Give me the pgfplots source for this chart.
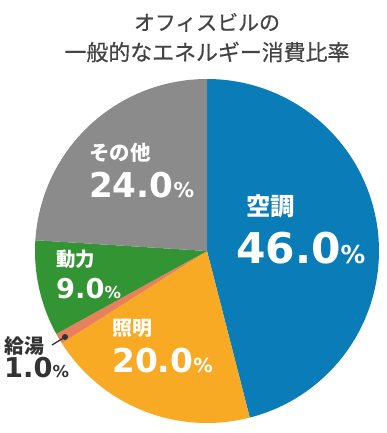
\documentclass[border=0pt]{standalone}
\usepackage{pgfplots}
\pgfplotsset{compat=1.18}
\usepackage{fontspec}
\setmainfont{DejaVu Sans}
\newfontfamily\jp{Noto Sans CJK JP}
\newfontfamily\jpm{Noto Sans CJK JP}[FakeBold=0.6]
\newfontfamily\num{DejaVu Sans}
\definecolor{cBlue}{HTML}{0A7CB8}
\definecolor{cOrange}{HTML}{F8AA25}
\definecolor{cSalmon}{HTML}{E8805E}
\definecolor{cGreen}{HTML}{339433}
\definecolor{cGray}{HTML}{8B8B8B}
\definecolor{cTitle}{HTML}{444444}
\definecolor{cDark}{HTML}{333333}
% shares (percent), clockwise from 12 o'clock
\def\vA{46.0}% 空調
\def\vB{20.0}% 照明
\def\vC{1.0}%  給湯
\def\vD{9.0}%  動力
\def\vE{24.0}% その他
\pgfmathsetmacro\aA{90}
\pgfmathsetmacro\aB{\aA-3.6*\vA}
\pgfmathsetmacro\aC{\aB-3.6*\vB}
\pgfmathsetmacro\aD{\aC-3.6*\vC}
\pgfmathsetmacro\aE{\aD-3.6*\vD}
\pgfmathsetmacro\aF{\aE-3.6*\vE}
\newcommand{\pct}[3]{{\num\bfseries\fontsize{#1}{#1}\selectfont #3}{\num\bfseries\fontsize{#2}{#2}\selectfont\%}}
\begin{document}
\begin{tikzpicture}
\begin{axis}[
  width=387bp, height=433bp, scale only axis,
  xmin=0, xmax=387, ymin=0, ymax=433, y dir=reverse,
  axis line style={draw=none}, xtick=\empty, ytick=\empty, clip=false,
]
\addplot[fill=cBlue, draw=none, domain=\aB:\aA, samples=120, variable=\t]
  ({207+172*cos(t)},{251-172*sin(t)}) -- (axis cs:207,251) -- cycle;
\addplot[fill=cOrange, draw=none, domain=\aC:\aB, samples=60, variable=\t]
  ({207+172*cos(t)},{251-172*sin(t)}) -- (axis cs:207,251) -- cycle;
\addplot[fill=cSalmon, draw=none, domain=\aD:\aC, samples=10, variable=\t]
  ({207+172*cos(t)},{251-172*sin(t)}) -- (axis cs:207,251) -- cycle;
\addplot[fill=cGreen, draw=none, domain=\aE:\aD, samples=30, variable=\t]
  ({207+172*cos(t)},{251-172*sin(t)}) -- (axis cs:207,251) -- cycle;
\addplot[fill=cGray, draw=none, domain=\aF:\aE, samples=60, variable=\t]
  ({207+172*cos(t)},{251-172*sin(t)}) -- (axis cs:207,251) -- cycle;
% leader line for 給湯
\addplot[cDark, line width=1.3pt, mark=*, mark size=2.3pt, mark indices={2}, mark options={fill=cDark}]
  coordinates {(52,345) (65,337)};
% title
\node[text=cTitle, inner sep=0] at (axis cs:207,22.5) {\jpm\fontsize{21}{21}\selectfont オフィスビルの};
\node[text=cTitle, inner sep=0] at (axis cs:207,52) {\jpm\fontsize{22}{22}\selectfont 一般的なエネルギー消費比率};
% labels
\node[white, anchor=west, inner sep=0] at (axis cs:246,206) {\jp\bfseries\fontsize{24.5}{24.5}\selectfont 空調};
\node[white, anchor=base west, inner sep=0] at (axis cs:236,263) {\pct{42.5}{24.7}{46.0}};
\node[white, anchor=west, inner sep=0] at (axis cs:89,153) {\jp\bfseries\fontsize{20.5}{20.5}\selectfont その他};
\node[white, anchor=base west, inner sep=0] at (axis cs:89,197) {\pct{34.3}{20.6}{24.0}};
\node[white, anchor=west, inner sep=0] at (axis cs:112,328) {\jp\bfseries\fontsize{20}{20}\selectfont 照明};
\node[white, anchor=base west, inner sep=0] at (axis cs:112,372) {\pct{33}{19.5}{20.0}};
\node[white, anchor=west, inner sep=0] at (axis cs:56,259) {\jp\bfseries\fontsize{19.5}{19.5}\selectfont 動力};
\node[white, anchor=base west, inner sep=0] at (axis cs:56,298) {\pct{27.4}{16.5}{9.0}};
\node[text=cDark, anchor=west, inner sep=0] at (axis cs:4,346) {\jp\bfseries\fontsize{20}{20}\selectfont 給湯};
\node[text=cDark, anchor=base west, inner sep=0] at (axis cs:4,377) {\pct{27.4}{16.5}{1.0}};
\end{axis}
\end{tikzpicture}
\end{document}
